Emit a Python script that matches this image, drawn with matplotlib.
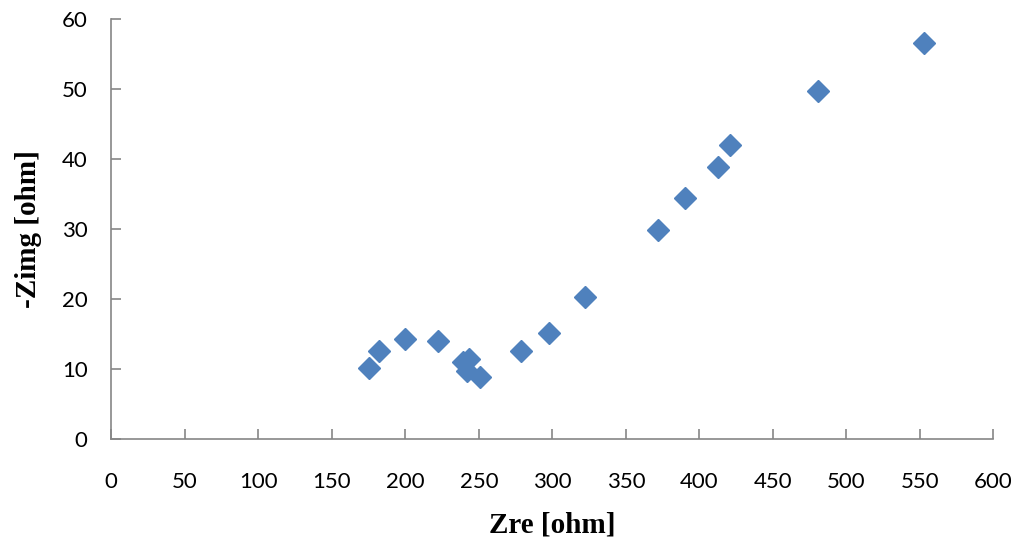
import matplotlib.pyplot as plt

# impedance data
zre = [175, 182, 200, 222, 239, 243, 242, 251, 279, 298, 322, 372, 390, 413, 421, 481, 553]
zimg = [10.2, 12.6, 14.3, 14.0, 11.0, 11.4, 9.7, 8.8, 12.6, 15.1, 20.3, 29.8, 34.4, 38.9, 42.0, 49.7, 56.5]

x_ticks = list(range(0, 601, 50))
y_ticks = list(range(0, 61, 10))

fig = plt.figure(figsize=(10.21, 5.38), dpi=100)
ax = fig.add_axes([0.109, 0.184, 0.864, 0.781])

ax.plot(zre, zimg, linestyle="none", marker="D", markersize=11,
        color="#4F81BD", markeredgecolor="#4F81BD")

ax.set_xlim(0, 600)
ax.set_ylim(0, 60)
ax.set_xticks(x_ticks)
ax.set_yticks(y_ticks)

for side in ["top", "right"]:
    ax.spines[side].set_visible(False)
for side in ["left", "bottom"]:
    ax.spines[side].set_color("#868686")
    ax.spines[side].set_linewidth(1.2)

ax.tick_params(direction="in", length=7, width=1.2, color="#868686",
               labelsize=16)
ax.tick_params(axis="x", pad=24)
ax.tick_params(axis="y", pad=17)
for lab in ax.get_xticklabels() + ax.get_yticklabels():
    lab.set_fontfamily("Lato")

ax.set_xlabel("Zre [ohm]", fontsize=21, fontweight="bold",
              fontfamily="Liberation Serif", labelpad=14)
ax.set_ylabel("-Zimg [ohm]", fontsize=21, fontweight="bold",
              fontfamily="Liberation Serif", labelpad=14)

fig.savefig("out.png", dpi=100)
